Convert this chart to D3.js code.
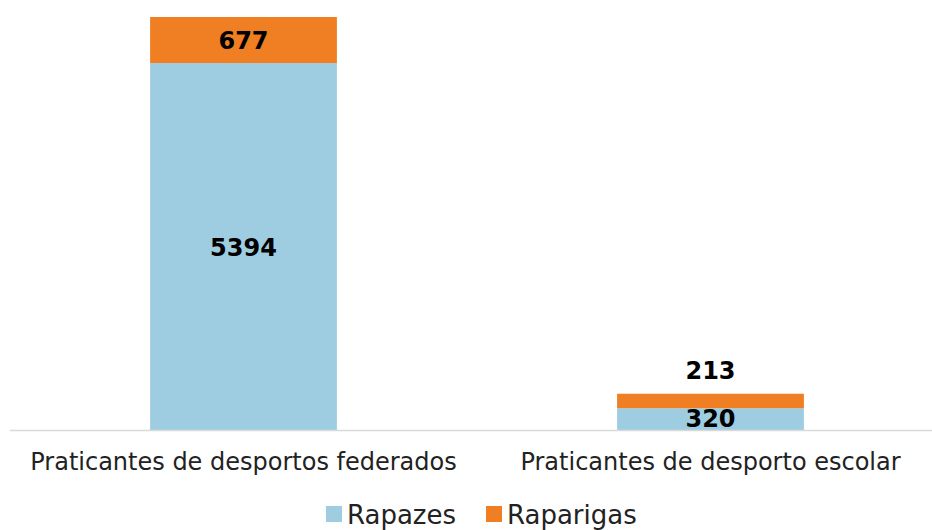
<!DOCTYPE html>
<html><head><meta charset="utf-8">
<script src="https://cdn.jsdelivr.net/npm/d3@7"></script>
<style>body{margin:0;background:#fff}svg{display:block}</style>
</head><body>
<script>
const categories = ["Praticantes de desportos federados", "Praticantes de desporto escolar"];
const seriesNames = ["Rapazes", "Raparigas"];
const rapazes = [5394, 320];
const raparigas = [677, 213];
const colors = ["#9ECDE1", "#EF7F22"];

const W = 932, H = 530;
const font = "DejaVu Sans";
const svg = d3.select("body").append("svg").attr("width", W).attr("height", H);

const x = d3.scaleBand().domain(categories).range([10, 944]).paddingInner(0.6).paddingOuter(0.3);
const y = d3.scaleLinear().domain([0, 7000]).range([430, 430 - 7000 * 413 / 6071]);

const rows = categories.map((c, i) => ({cat: c, Rapazes: rapazes[i], Raparigas: raparigas[i]}));
const stack = d3.stack().keys(seriesNames)(rows);

svg.append("g").selectAll("g").data(stack).join("g")
  .attr("fill", (d, i) => colors[i])
  .selectAll("rect").data(d => d).join("rect")
  .attr("x", d => x(d.data.cat))
  .attr("width", x.bandwidth())
  .attr("y", d => y(d[1]))
  .attr("height", d => y(d[0]) - y(d[1]));

// axis line
svg.append("line").attr("x1", 10).attr("x2", W).attr("y1", y(0) + 0.5).attr("y2", y(0) + 0.5)
  .attr("stroke", "#d9d9d9").attr("stroke-width", 1.5);

// category labels
svg.append("g").selectAll("text").data(categories).join("text")
  .attr("x", d => x(d) + x.bandwidth() / 2).attr("y", 470)
  .attr("text-anchor", "middle").attr("font-family", font).attr("font-size", 24).attr("fill", "#222")
  .text(d => d);

// value labels
const labels = [];
stack.forEach((s, si) => s.forEach(d => {
  const h = y(d[0]) - y(d[1]);
  const cx = x(d.data.cat) + x.bandwidth() / 2;
  let ly = (y(d[0]) + y(d[1])) / 2 + 9;
  if (si === 1 && h < 30) ly = y(d[1]) - 15;
  if (si === 0 && h < 30) ly = y(d[0]) - 3;
  labels.push({cx, ly, v: d[1] - d[0]});
}));
svg.append("g").selectAll("text").data(labels).join("text")
  .attr("x", d => d.cx).attr("y", d => d.ly)
  .attr("text-anchor", "middle").attr("font-family", font).attr("font-weight", "bold")
  .attr("font-size", 24).attr("fill", "#000").text(d => d.v);

// legend
const leg = svg.append("g");
const legX = [326, 486];
seriesNames.forEach((n, i) => {
  leg.append("rect").attr("x", legX[i]).attr("y", 506).attr("width", 16).attr("height", 16).attr("fill", colors[i]);
  leg.append("text").attr("x", legX[i] + 21).attr("y", 524).attr("font-family", font)
    .attr("font-size", 26).attr("fill", "#222").text(n);
});
</script>
</body></html>
